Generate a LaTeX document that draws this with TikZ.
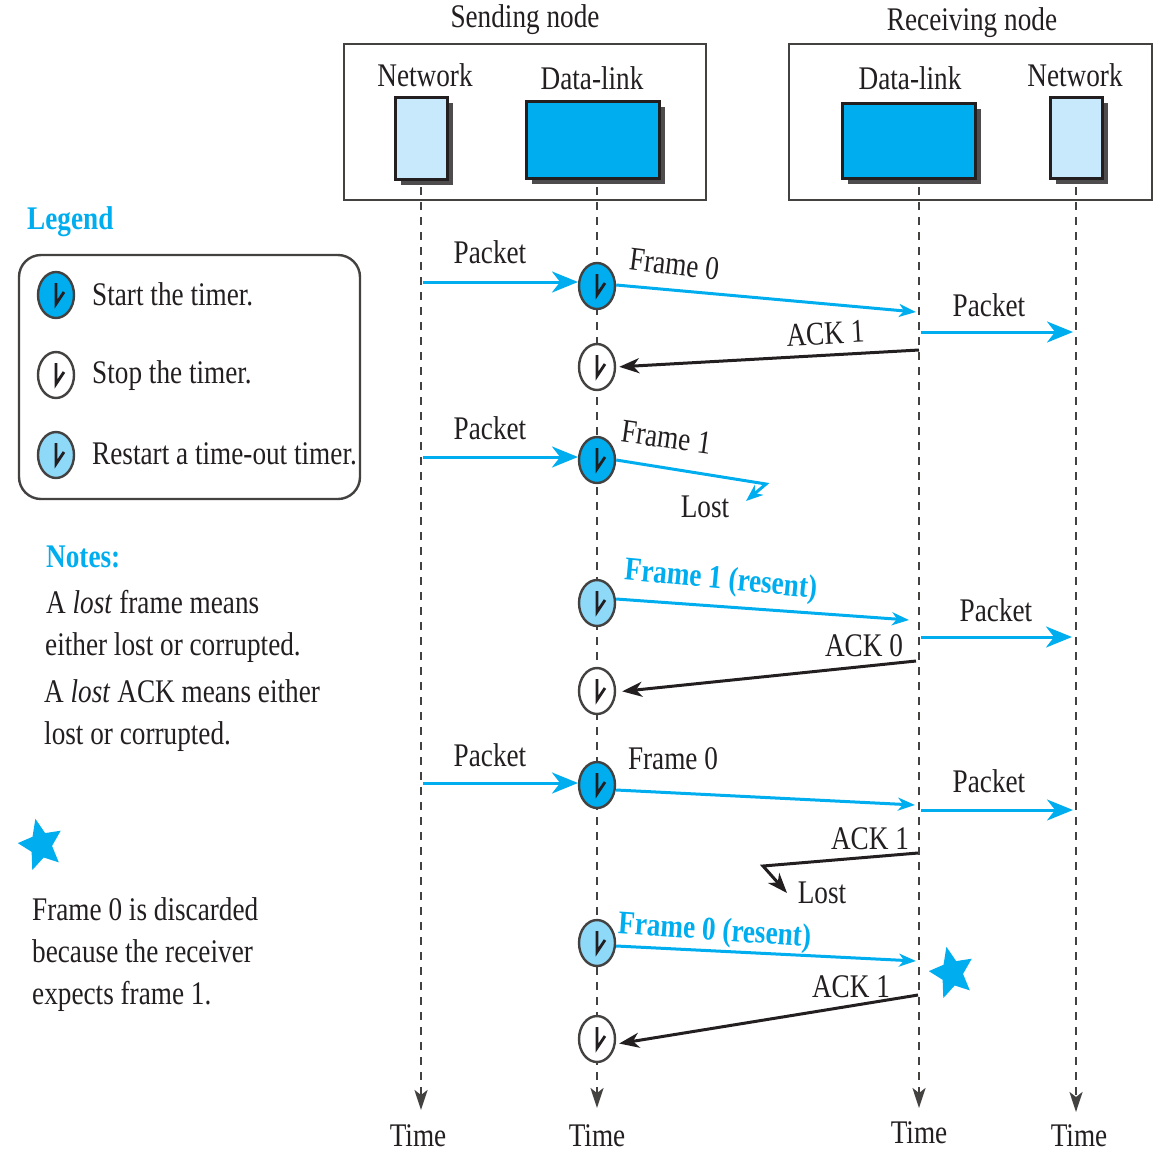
\documentclass[tikz,border=0pt]{standalone}
\usepackage{fontspec}
\setmainfont[FakeStretch=0.825]{Liberation Serif}
\usetikzlibrary{arrows.meta,shapes.geometric,shadows}
\definecolor{cy}{HTML}{00AEEF}
\definecolor{lb}{HTML}{8ED8F8}
\definecolor{pb}{HTML}{C7E9FB}
\definecolor{ink}{HTML}{231F20}
\tikzset{
  txt/.style={anchor=base,inner sep=0pt,text=ink,font=\fontsize{33}{38}\selectfont},
  ltxt/.style={txt,anchor=base west},
  btxt/.style={txt,text=cy,font=\fontsize{33}{38}\selectfont\bfseries},
  frame/.style={draw=ink!85,line width=2.4pt,inner sep=0pt},
  layer/.style={draw=ink,line width=3pt,inner sep=0pt,
    drop shadow={shadow xshift=6pt,shadow yshift=-6pt,fill=ink!80,opacity=1}},
  clock/.style={ellipse,draw=ink!85,line width=2.4pt,minimum width=36pt,minimum height=46pt,inner sep=0pt},
  hand/.style={draw=ink,line width=2.8pt,line join=miter},
  life/.style={draw=ink!85,line width=2.4pt,dash pattern=on 8pt off 7pt,-{Stealth[length=20pt,width=13pt,inset=5pt]}},
  big/.style={draw=cy,line width=3pt,-{Stealth[length=26pt,width=21pt,inset=8pt]}},
  small/.style={draw=cy,line width=3pt,-{Stealth[length=17pt,width=13pt,inset=5pt]}},
  ack/.style={draw=ink,line width=3pt,-{Stealth[length=20pt,width=15pt,inset=6pt]}},
  star5/.style={star,star points=5,star point ratio=2.1,fill=cy,inner sep=0pt,minimum size=54pt,shape border rotate=14,xscale=.86,transform shape}
}
\newcommand{\myclock}[4]{%
  \node[clock,fill=#4] (#1) at (#2,#3) {};
  \draw[hand,shift={(#1.center)}] (0,-12) -- (0,9) -- (8,-3);
}
\begin{document}
\begin{tikzpicture}[x=1pt,y=-1pt]
\useasboundingbox (0,0) rectangle (1155,1149);
% outer boxes
\node[frame,minimum width=362pt,minimum height=156pt] (send) at (525,122) {};
\node[frame,minimum width=363pt,minimum height=156pt] (recv) at (970.5,122) {};
\node[txt] (tsend) at (525,27) {Sending node};
\node[txt] (trecv) at (972,30) {Receiving node};
\node[txt] (tn1) at (425,86) {Network};
\node[txt] (td1) at (592,89) {Data-link};
\node[txt] (td2) at (910,89) {Data-link};
\node[txt] (tn2) at (1075,86) {Network};
\node[layer,fill=pb,minimum width=52pt,minimum height=82pt] (n1) at (421,138) {};
\node[layer,fill=cy,minimum width=133pt,minimum height=77pt] (d1) at (592.5,139.5) {};
\node[layer,fill=cy,minimum width=133pt,minimum height=75pt] (d2) at (908.5,140.5) {};
\node[layer,fill=pb,minimum width=52pt,minimum height=81pt] (n2) at (1076,137.5) {};
% lifelines
\coordinate (a0) at (421,187); \coordinate (a1) at (421,1110);
\coordinate (b0) at (597,187); \coordinate (b1) at (597,1108);
\coordinate (c0) at (919,187); \coordinate (c1) at (919,1108);
\coordinate (e0) at (1076,187); \coordinate (e1) at (1076,1112);
\draw[life] (a0) -- (a1);
\draw[life] (b0) -- (b1);
\draw[life] (c0) -- (c1);
\draw[life] (e0) -- (e1);
% clocks
\myclock{k1}{597}{286}{cy}
\myclock{k2}{597}{367}{white}
\myclock{k3}{597}{460}{cy}
\myclock{k4}{597}{603}{lb}
\myclock{k5}{597}{691}{white}
\myclock{k6}{597}{785}{cy}
\myclock{k7}{597}{943}{lb}
\myclock{k8}{597}{1039}{white}
% first exchange
\coordinate (p1) at (423,282); \coordinate (p1e) at (578,282);
\draw[big] (p1) -- (p1e);
\node[txt] (l1) at (490,263) {Packet};
\coordinate (f1) at (916,312);
\draw[small] (k1.east) ++(0,-1) -- (f1);
\node[txt,rotate=-7] (l2) at (673,275) {Frame 0};
\coordinate (r1) at (921,332); \coordinate (r1e) at (1073,332);
\draw[big] (r1) -- (r1e);
\node[txt] (l3) at (989,316) {Packet};
\coordinate (a1s) at (919,350);
\draw[ack,shorten >=3pt] (a1s) -- (k2.east);
\node[txt,rotate=3] (l4) at (826,344) {ACK 1};
% lost frame
\coordinate (p2) at (423,457); \coordinate (p2e) at (578,457);
\draw[big] (p2) -- (p2e);
\node[txt] (l5) at (490,439) {Packet};
\coordinate (f2) at (766,484); \coordinate (f2e) at (746,501);
\draw[small] (k3.east) -- (f2) -- (f2e);
\node[txt,rotate=-8] (l6) at (665,448) {Frame 1};
\node[txt] (l7) at (705,517) {Lost};
% resend
\coordinate (f3) at (909,620);
\draw[small] (k4.east) ++(0,-4) -- (f3);
\node[btxt,anchor=base,inner sep=0pt,rotate=-5.5] (l8) at (720,589) {Frame 1 (resent)};
\coordinate (r3) at (921,637); \coordinate (r3e) at (1072,637);
\draw[big] (r3) -- (r3e);
\node[txt] (l9) at (996,621) {Packet};
\coordinate (a3s) at (916,661);
\draw[ack,shorten >=6pt] (a3s) -- ([yshift=-1pt]k5.east);
\node[txt] (l10) at (864,656) {ACK 0};
% next frame
\coordinate (p4) at (423,783); \coordinate (p4e) at (578,783);
\draw[big] (p4) -- (p4e);
\node[txt] (l11) at (490,766) {Packet};
\coordinate (f4) at (915,805);
\draw[small] (k6.east) ++(0,5) -- (f4);
\node[txt] (l12) at (673,769) {Frame 0};
\coordinate (r4) at (921,810); \coordinate (r4e) at (1073,810);
\draw[big] (r4) -- (r4e);
\node[txt] (l13) at (989,792) {Packet};
\coordinate (a4s) at (918,853); \coordinate (a4m) at (763,866); \coordinate (a4e) at (787,893);
\draw[ack,line join=miter] (a4s) -- (a4m) -- (a4e);
\node[txt] (l14) at (870,849) {ACK 1};
\node[txt] (l15) at (822,903) {Lost};
% resent 0
\coordinate (f5) at (916,961);
\draw[small] (k7.east) ++(0,3) -- (f5);
\node[btxt,anchor=base,inner sep=0pt,rotate=-4] (l16) at (714,940) {Frame 0 (resent)};
\coordinate (a5s) at (918,995);
\draw[ack,shorten >=3pt] (a5s) -- ([yshift=-5pt]k8.east);
\node[txt] (l17) at (851,997) {ACK 1};
\node[star5] (s2) at (952,973) {};
% time labels
\node[txt] (t1) at (418,1146) {Time};
\node[txt] (t2) at (597,1146) {Time};
\node[txt] (t3) at (919,1143) {Time};
\node[txt] (t4) at (1079,1146) {Time};
% legend
\node[btxt,anchor=base west] (leg) at (27,229) {Legend};
\node[frame,rounded corners=22pt,minimum width=341pt,minimum height=244pt] (lbox) at (189.5,377) {};
\myclock{g1}{56}{295}{cy}
\myclock{g2}{56}{375}{white}
\myclock{g3}{56}{455}{lb}
\node[ltxt] (g1t) at (92,305) {Start the timer.};
\node[ltxt] (g2t) at (92,383) {Stop the timer.};
\node[ltxt] (g3t) at (92,464) {Restart a time-out timer.};
% notes
\node[btxt,anchor=base west] (notes) at (46,567) {Notes:};
\node[ltxt] (n1t) at (46,613) {A \textit{lost} frame means};
\node[ltxt] (n2t) at (45,655) {either lost or corrupted.};
\node[ltxt] (n3t) at (44,702) {A \textit{lost} ACK means either};
\node[ltxt] (n4t) at (44,744) {lost or corrupted.};
\node[star5] (s1) at (41,845) {};
\node[ltxt] (n5t) at (32,920) {Frame 0 is discarded};
\node[ltxt] (n6t) at (32,962) {because the receiver};
\node[ltxt] (n7t) at (32,1004) {expects frame 1.};
\end{tikzpicture}
\end{document}
